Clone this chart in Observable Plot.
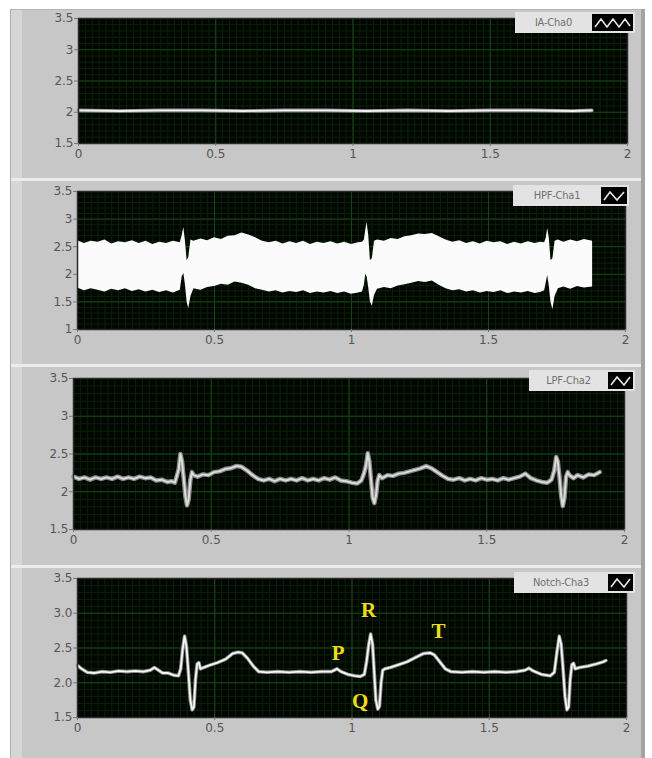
<!DOCTYPE html>
<html><head><meta charset="utf-8">
<script src="https://cdn.jsdelivr.net/npm/d3@7"></script>
<script src="https://cdn.jsdelivr.net/npm/@observablehq/plot@0.6"></script>
<style>
html,body{margin:0;padding:0;background:#fff;}
#page{position:relative;width:652px;height:758px;overflow:hidden;background:#fff;font-family:"DejaVu Sans",sans-serif;}
.abs{position:absolute;}
.legend{position:absolute;height:21px;background:#e3e3e3;display:flex;align-items:center;font-size:11px;color:#707070;box-sizing:border-box;font-family:"DejaVu Sans Condensed","DejaVu Sans",sans-serif;}
.legend .txt{flex:1;text-align:center;white-space:nowrap;letter-spacing:-0.2px;}
.legend .icon{background:#000;height:17px;margin-right:2px;display:flex;align-items:center;justify-content:center;}
</style></head><body><div id="page"></div>
<script>
// ---------- data ----------
const xTicks = [0, 0.5, 1, 1.5, 2];
const xTickLabels = ["0", "0.5", "1", "1.5", "2"];
const yTicksA = [1.5, 2, 2.5, 3, 3.5];
const yTickLabelsA = ["1.5", "2", "2.5", "3", "3.5"];
const yTicksB = [1, 1.5, 2, 2.5, 3, 3.5];
const yTickLabelsB = ["1", "1.5", "2", "2.5", "3", "3.5"];
const yTickLabelsD = ["1.5", "2.0", "2.5", "3.0", "3.5"];
const legendNames = ["IA-Cha0", "HPF-Cha1", "LPF-Cha2", "Notch-Cha3"];

// Panel 1: instrumentation amplifier output
const iaTime  = [0, 0.15, 0.3, 0.45, 0.6, 0.75, 0.9, 1.05, 1.2, 1.35, 1.5, 1.65, 1.8, 1.87];
const iaValue = [2.03, 2.02, 2.03, 2.03, 2.02, 2.03, 2.03, 2.02, 2.03, 2.02, 2.03, 2.03, 2.02, 2.03];

// Panel 2: high-pass filtered (noise band envelope, upper and lower edges)
const hpfTime = [
  0.000, 0.025, 0.050, 0.075, 0.100, 0.125, 0.150, 0.175, 0.200, 0.225, 0.250, 0.275, 0.300, 0.325, 0.350, 0.375,
  0.382, 0.388, 0.394, 0.400, 0.406, 0.414,
  0.425, 0.450, 0.475, 0.500, 0.525, 0.550, 0.575, 0.600, 0.625, 0.650, 0.675, 0.700, 0.725, 0.750, 0.775, 0.800, 0.825, 0.850, 0.875, 0.900, 0.925, 0.950, 0.975, 1.000, 1.025, 1.040,
  1.047, 1.052, 1.057, 1.063, 1.069, 1.076, 1.084,
  1.095, 1.120, 1.145, 1.170, 1.195, 1.220, 1.245, 1.270, 1.295, 1.320, 1.345, 1.370, 1.395, 1.420, 1.445, 1.470, 1.495, 1.520, 1.545, 1.570, 1.595, 1.620, 1.645, 1.670, 1.690, 1.705,
  1.711, 1.716, 1.722, 1.728, 1.735, 1.743,
  1.755, 1.775, 1.800, 1.825, 1.850, 1.880];
const hpfUpper = [
  2.61, 2.56, 2.60, 2.58, 2.62, 2.55, 2.59, 2.57, 2.61, 2.56, 2.60, 2.54, 2.58, 2.56, 2.60, 2.57,
  2.70, 2.85, 2.60, 2.25, 2.30, 2.62,
  2.60, 2.64, 2.61, 2.66, 2.63, 2.69, 2.70, 2.75, 2.71, 2.66, 2.60, 2.57, 2.60, 2.55, 2.59, 2.56, 2.60, 2.54, 2.58, 2.56, 2.59, 2.55, 2.58, 2.54, 2.57, 2.58,
  2.62, 2.80, 2.94, 2.70, 2.25, 2.28, 2.60,
  2.62, 2.60, 2.65, 2.63, 2.68, 2.70, 2.73, 2.72, 2.74, 2.68, 2.62, 2.58, 2.61, 2.56, 2.59, 2.55, 2.60, 2.57, 2.59, 2.54, 2.58, 2.55, 2.59, 2.56, 2.58, 2.57,
  2.66, 2.83, 2.65, 2.25, 2.28, 2.60,
  2.62, 2.58, 2.62, 2.59, 2.63, 2.60];
const hpfLower = [
  1.75, 1.70, 1.74, 1.71, 1.68, 1.73, 1.70, 1.74, 1.69, 1.72, 1.68, 1.71, 1.67, 1.70, 1.66, 1.71,
  1.95, 2.02, 1.80, 1.50, 1.38, 1.60,
  1.74, 1.71, 1.76, 1.78, 1.82, 1.80, 1.86, 1.84, 1.80, 1.74, 1.71, 1.68, 1.70, 1.66, 1.69, 1.67, 1.70, 1.65, 1.68, 1.66, 1.69, 1.65, 1.68, 1.64, 1.66, 1.68,
  1.80, 2.00, 1.95, 1.75, 1.50, 1.42, 1.62,
  1.73, 1.76, 1.74, 1.79, 1.81, 1.84, 1.87, 1.85, 1.88, 1.80, 1.74, 1.70, 1.72, 1.68, 1.70, 1.66, 1.69, 1.67, 1.70, 1.65, 1.68, 1.66, 1.69, 1.65, 1.67, 1.70,
  1.85, 1.98, 1.78, 1.50, 1.36, 1.60,
  1.74, 1.77, 1.73, 1.78, 1.75, 1.77];

// Panel 3: low-pass filtered
const lpfTime  = [0.000, 0.020, 0.040, 0.060, 0.080, 0.100, 0.120, 0.140, 0.160, 0.180, 0.200, 0.220, 0.240, 0.260, 0.280, 0.300,
                  0.320, 0.340, 0.355, 0.368, 0.376, 0.382, 0.388, 0.394, 0.400, 0.406, 0.412, 0.418, 0.424, 0.430, 0.436, 0.450,
                  0.470, 0.490, 0.510, 0.530, 0.550, 0.570, 0.590, 0.610, 0.630, 0.650, 0.670, 0.690, 0.710, 0.730, 0.750, 0.770,
                  0.790, 0.810, 0.830, 0.850, 0.870, 0.890, 0.910, 0.930, 0.950, 0.970, 0.990, 1.010, 1.030, 1.045, 1.055, 1.062,
                  1.068, 1.074, 1.080, 1.086, 1.092, 1.098, 1.104, 1.110, 1.120, 1.140, 1.160, 1.180, 1.200, 1.220, 1.240, 1.260,
                  1.280, 1.300, 1.320, 1.340, 1.360, 1.380, 1.400, 1.420, 1.440, 1.460, 1.480, 1.500, 1.520, 1.540, 1.560, 1.580,
                  1.600, 1.620, 1.640, 1.660, 1.680, 1.700, 1.720, 1.735, 1.745, 1.752, 1.758, 1.764, 1.770, 1.776, 1.782, 1.788,
                  1.794, 1.800, 1.815, 1.830, 1.850, 1.870, 1.890, 1.910];
const lpfValue = [2.20, 2.17, 2.19, 2.16, 2.19, 2.17, 2.19, 2.17, 2.20, 2.17, 2.19, 2.17, 2.20, 2.18, 2.19, 2.15,
                  2.16, 2.13, 2.14, 2.12, 2.22, 2.30, 2.50, 2.40, 2.18, 1.95, 1.82, 1.90, 2.15, 2.26, 2.22, 2.20,
                  2.23, 2.22, 2.26, 2.27, 2.30, 2.31, 2.34, 2.33, 2.28, 2.22, 2.17, 2.15, 2.17, 2.14, 2.17, 2.15,
                  2.17, 2.15, 2.18, 2.15, 2.17, 2.15, 2.18, 2.16, 2.19, 2.15, 2.14, 2.12, 2.11, 2.15, 2.25, 2.35,
                  2.51, 2.40, 2.15, 1.92, 1.85, 1.95, 2.15, 2.22, 2.18, 2.22, 2.21, 2.24, 2.25, 2.27, 2.29, 2.31,
                  2.34, 2.31, 2.26, 2.21, 2.17, 2.16, 2.18, 2.15, 2.17, 2.15, 2.18, 2.16, 2.17, 2.15, 2.18, 2.16,
                  2.18, 2.20, 2.24, 2.18, 2.15, 2.13, 2.12, 2.16, 2.28, 2.46, 2.40, 2.20, 1.95, 1.81, 1.92, 2.20,
                  2.26, 2.22, 2.18, 2.22, 2.19, 2.23, 2.22, 2.26];

// Panel 4: notch filtered ECG
const notchTime  = [0.000, 0.015, 0.035, 0.060, 0.090, 0.120, 0.150, 0.180, 0.210, 0.240, 0.265, 0.280, 0.295, 0.310, 0.330, 0.350,
                    0.368, 0.376, 0.383, 0.390, 0.397, 0.404, 0.411, 0.418, 0.424, 0.430, 0.436, 0.442, 0.448, 0.460, 0.480, 0.510,
                    0.540, 0.565, 0.585, 0.600, 0.620, 0.640, 0.660, 0.690, 0.730, 0.770, 0.810, 0.850, 0.890, 0.925, 0.945, 0.960,
                    0.985, 1.010, 1.030, 1.045, 1.053, 1.061, 1.068, 1.075, 1.081, 1.087, 1.094, 1.100, 1.106, 1.112, 1.120, 1.140,
                    1.170, 1.200, 1.230, 1.260, 1.285, 1.300, 1.320, 1.340, 1.360, 1.400, 1.440, 1.480, 1.520, 1.560, 1.600, 1.630,
                    1.645, 1.660, 1.690, 1.722, 1.737, 1.747, 1.755, 1.762, 1.769, 1.776, 1.783, 1.789, 1.795, 1.801, 1.807, 1.813,
                    1.830, 1.860, 1.890, 1.915, 1.925];
const notchValue = [2.25, 2.20, 2.15, 2.14, 2.16, 2.15, 2.17, 2.16, 2.17, 2.16, 2.18, 2.22, 2.18, 2.14, 2.14, 2.11,
                    2.10, 2.20, 2.48, 2.67, 2.52, 2.15, 1.75, 1.61, 1.65, 2.05, 2.27, 2.29, 2.20, 2.22, 2.25, 2.29,
                    2.34, 2.42, 2.44, 2.43, 2.35, 2.24, 2.16, 2.15, 2.16, 2.15, 2.16, 2.15, 2.16, 2.16, 2.20, 2.16,
                    2.12, 2.10, 2.09, 2.12, 2.30, 2.55, 2.70, 2.55, 2.15, 1.75, 1.62, 1.66, 2.00, 2.18, 2.20, 2.22,
                    2.26, 2.30, 2.36, 2.42, 2.43, 2.40, 2.30, 2.20, 2.16, 2.15, 2.16, 2.15, 2.16, 2.15, 2.16, 2.18,
                    2.21, 2.17, 2.12, 2.10, 2.15, 2.45, 2.67, 2.55, 2.20, 1.80, 1.61, 1.65, 2.05, 2.26, 2.28, 2.20,
                    2.22, 2.24, 2.27, 2.30, 2.32];

// Wave annotations
const waveLabels = ["P", "Q", "R", "T"];
const waveX = [0.95, 1.03, 1.06, 1.315];
const waveY = [2.42, 1.73, 3.04, 2.74];

// ---------- build ----------
const page = document.getElementById("page");
function addDiv(style) { const d = document.createElement("div"); d.className = "abs"; d.style.cssText = style; page.appendChild(d); return d; }

// panel chrome
addDiv("left:10px;top:9px;width:634px;height:749px;background:#c7c7c7;border-top:1px solid #b5b5b5;border-left:1px solid #aeaeae;box-sizing:border-box;");
addDiv("left:11px;top:10px;width:11px;height:748px;background:#d6d6d6;");
addDiv("left:641px;top:9px;width:4px;height:749px;background:#a3a3a3;");
[178, 364, 565].forEach(y => addDiv(`left:11px;top:${y}px;width:630px;height:3px;background:#ebebeb;`));

const rec = (ts, vs) => ts.map((t, i) => ({t, v: vs[i]}));
const iaData = rec(iaTime, iaValue);
const lpfData = rec(lpfTime, lpfValue);
const notchData = rec(notchTime, notchValue);
const hpfData = hpfTime.map((t, i) => ({t, hi: hpfUpper[i], lo: hpfLower[i]}));
const labelData = waveLabels.map((s, i) => ({s, x: waveX[i], y: waveY[i]}));

const xMinor = d3.range(0, 2.0001, 0.025);
const MT = 10, MB = 30;

const panels = [
  {left: 78, right: 627, top: 18, bottom: 143, yDomain: [1.5, 3.5], yTicks: yTicksA, yLabels: yTickLabelsA,
   legend: {x: 515, y: 12, w: 120, iw: 41, name: legendNames[0], wave: "M3 12 L9 4 L15 12 L21 4 L27 12 L33 4 L38 11"}},
  {left: 77, right: 625, top: 191, bottom: 329, yDomain: [1, 3.5], yTicks: yTicksB, yLabels: yTickLabelsB,
   legend: {x: 513, y: 185, w: 116, iw: 26, name: legendNames[1], wave: "M3 12 L9 4 L16 12 L23 4"}},
  {left: 73, right: 624, top: 378, bottom: 529, yDomain: [1.5, 3.5], yTicks: yTicksA, yLabels: yTickLabelsA,
   legend: {x: 529, y: 370, w: 106, iw: 25, name: legendNames[2], wave: "M3 12 L9 4 L16 12 L22 4"}},
  {left: 77, right: 626, top: 578, bottom: 717, yDomain: [1.5, 3.5], yTicks: yTicksA, yLabels: yTickLabelsD,
   legend: {x: 514, y: 572, w: 121, iw: 25, name: legendNames[3], wave: "M3 12 L9 4 L16 12 L22 4"}}
];

const dataMarks = [
  () => [
    Plot.line(iaData, {x: "t", y: "v", stroke: "#8f8f8f", strokeWidth: 3.6}),
    Plot.line(iaData, {x: "t", y: "v", stroke: "#efefef", strokeWidth: 1.8})
  ],
  () => [
    Plot.areaY(hpfData, {x: "t", y1: "lo", y2: "hi", fill: "#fbfbfb"})
  ],
  () => [
    Plot.line(lpfData, {x: "t", y: "v", stroke: "#8a8a8a", strokeWidth: 4.5}),
    Plot.line(lpfData, {x: "t", y: "v", stroke: "#dcdcdc", strokeWidth: 2})
  ],
  () => [
    Plot.line(notchData, {x: "t", y: "v", stroke: "#8a8a8a", strokeWidth: 3.6}),
    Plot.line(notchData, {x: "t", y: "v", stroke: "#f6f6f6", strokeWidth: 1.8}),
    Plot.text(labelData, {x: "x", y: "y", text: "s", fill: "#eedc1c", fontSize: 21, fontWeight: "bold",
      fontFamily: "'Liberation Serif', serif"})
  ]
];

panels.forEach((p, k) => {
  const yMinor = d3.range(p.yDomain[0], p.yDomain[1] + 0.0001, 0.1);
  const chart = Plot.plot({
    width: 652,
    height: (p.bottom - p.top) + MT + MB,
    marginLeft: p.left, marginRight: 652 - p.right, marginTop: MT, marginBottom: MB,
    x: {domain: [0, 2], label: null},
    y: {domain: p.yDomain, label: null},
    style: {background: "transparent", color: "#555", fontSize: "12px", fontFamily: "'DejaVu Sans', sans-serif", overflow: "visible"},
    marks: [
      Plot.frame({fill: "#010601"}),
      Plot.ruleX(xMinor, {stroke: "#0a200a", strokeWidth: 1}),
      Plot.ruleY(yMinor, {stroke: "#0a200a", strokeWidth: 1}),
      Plot.ruleX(xTicks, {stroke: "#124a12", strokeWidth: 1}),
      Plot.ruleY(p.yTicks, {stroke: "#124a12", strokeWidth: 1}),
      ...dataMarks[k](),
      Plot.frame({stroke: "#2b2b2b", strokeWidth: 1.5}),
      Plot.axisX({ticks: xTicks, tickFormat: d => xTickLabels[xTicks.indexOf(d)], tickSize: 3, tickPadding: 3, stroke: "#777", fill: "#555", label: null}),
      Plot.axisY({ticks: p.yTicks, tickFormat: d => p.yLabels[p.yTicks.indexOf(d)], tickSize: 4, tickPadding: 1, stroke: "#777", fill: "#555", label: null})
    ]
  });
  const holder = addDiv(`left:0px;top:${p.top - MT}px;`);
  holder.appendChild(chart);

  const L = p.legend;
  const lg = document.createElement("div");
  lg.className = "legend";
  lg.style.left = L.x + "px"; lg.style.top = L.y + "px"; lg.style.width = L.w + "px";
  lg.innerHTML = `<span class="txt">${L.name}</span><span class="icon" style="width:${L.iw}px">` +
    `<svg width="${L.iw}" height="16" viewBox="0 0 ${L.iw} 16"><path d="${L.wave}" fill="none" stroke="#e8e8e8" stroke-width="1.6"/></svg></span>`;
  page.appendChild(lg);
});
</script></body></html>
